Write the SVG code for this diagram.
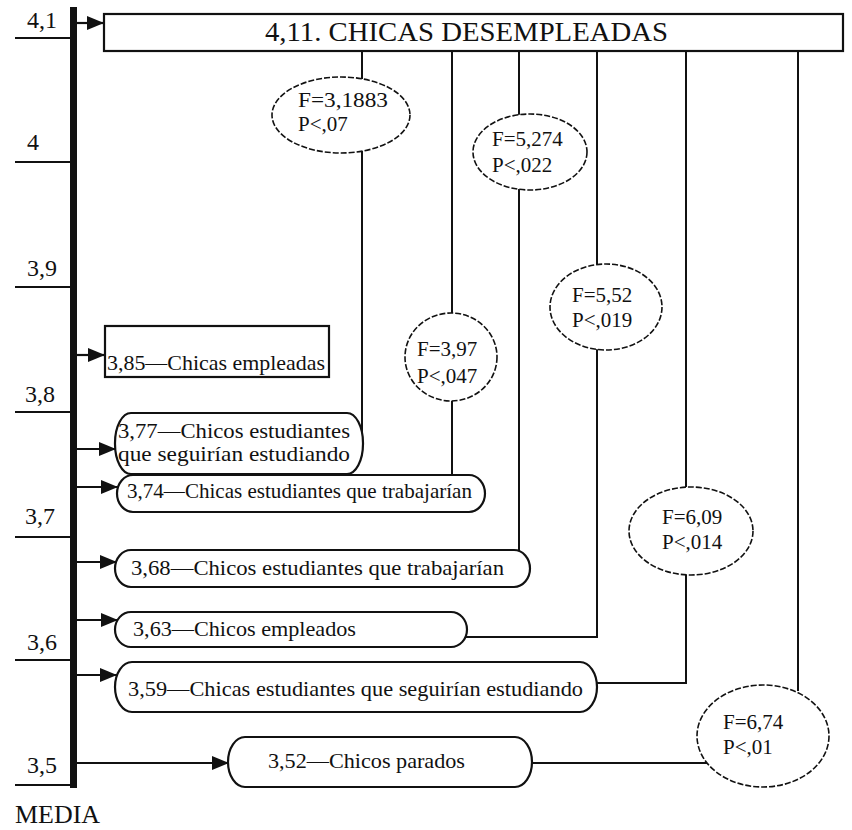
<svg xmlns="http://www.w3.org/2000/svg" width="852" height="830" viewBox="0 0 852 830">
<style>
  text { font-family: "Liberation Serif", "Times New Roman", serif; fill: #111; }
  .tick { stroke: #111; stroke-width: 2; }
  .tl { font-size: 24px; }
  .lbl { font-size: 22px; }
  .stat { font-size: 21px; }
  .box { fill: #fff; stroke: #111; stroke-width: 2.2; }
  .ell { fill: #fff; stroke: #111; stroke-width: 1.6; stroke-dasharray: 6 2; }
  .con { fill: none; stroke: #111; stroke-width: 2; }
  .arr { fill: none; stroke: #111; stroke-width: 2.2; marker-end: url(#ah); }
</style>
<defs>
  <marker id="ah" markerUnits="userSpaceOnUse" markerWidth="18" markerHeight="16" refX="17" refY="8" orient="auto">
    <path d="M0,1 L17,8 L0,15 z" fill="#111"/>
  </marker>
</defs>
<rect width="852" height="830" fill="#fff"/>

<g id="axis">
  <rect x="70" y="7" width="7" height="781" fill="#111"/>
  <line class="tick" x1="15" y1="38" x2="70" y2="38"/>
  <line class="tick" x1="15" y1="162" x2="70" y2="162"/>
  <line class="tick" x1="15" y1="287" x2="70" y2="287"/>
  <line class="tick" x1="15" y1="412" x2="70" y2="412"/>
  <line class="tick" x1="15" y1="537" x2="70" y2="537"/>
  <line class="tick" x1="15" y1="660" x2="70" y2="660"/>
  <line class="tick" x1="15" y1="785" x2="70" y2="785"/>
  <text class="tl" x="27" y="28">4,1</text>
  <text class="tl" x="27" y="150">4</text>
  <text class="tl" x="27" y="276">3,9</text>
  <text class="tl" x="25" y="402">3,8</text>
  <text class="tl" x="25" y="524">3,7</text>
  <text class="tl" x="27" y="650">3,6</text>
  <text class="tl" x="27" y="773">3,5</text>
  <text x="15" y="823" font-size="26" textLength="85" lengthAdjust="spacingAndGlyphs">MEDIA</text>
</g>

<g id="connectors">
  <line class="arr" x1="77" y1="23" x2="104" y2="23"/>
  <line class="arr" x1="77" y1="355" x2="105" y2="355"/>
  <line class="arr" x1="77" y1="449" x2="116" y2="449"/>
  <line class="arr" x1="77" y1="487" x2="118" y2="487"/>
  <line class="arr" x1="77" y1="562" x2="117" y2="562"/>
  <line class="arr" x1="77" y1="620" x2="118" y2="620"/>
  <line class="arr" x1="77" y1="675" x2="117" y2="675"/>
  <line class="arr" x1="77" y1="763" x2="229" y2="763"/>
  <line class="con" x1="362" y1="51" x2="362" y2="79"/>
  <line class="con" x1="362" y1="151" x2="362" y2="434"/>
  <line class="con" x1="452" y1="51" x2="452" y2="313"/>
  <line class="con" x1="452" y1="401" x2="452" y2="475"/>
  <line class="con" x1="519" y1="51" x2="519" y2="115"/>
  <line class="con" x1="519" y1="189" x2="519" y2="551"/>
  <line class="con" x1="597" y1="51" x2="597" y2="265"/>
  <polyline class="con" points="597,349 597,637 465,637"/>
  <line class="con" x1="686" y1="51" x2="686" y2="487"/>
  <polyline class="con" points="686,575 686,683 597,683"/>
  <line class="con" x1="798" y1="51" x2="798" y2="691"/>
  <line class="con" x1="532" y1="763" x2="707" y2="763"/>
</g>

<g id="title">
  <rect class="box" x="104" y="14" width="739" height="37"/>
  <text x="265" y="41" font-size="27" textLength="403" lengthAdjust="spacingAndGlyphs">4,11. CHICAS DESEMPLEADAS</text>
</g>

<g id="n385">
  <rect class="box" x="105" y="326" width="224" height="51"/>
  <text class="lbl" x="107" y="370" textLength="218" lengthAdjust="spacingAndGlyphs">3,85—Chicas empleadas</text>
</g>

<g id="n377">
  <rect class="box" x="115" y="413" width="248" height="61" rx="16" ry="30"/>
  <text class="lbl" x="118" y="438" textLength="232" lengthAdjust="spacingAndGlyphs">3,77—Chicos estudiantes</text>
  <text class="lbl" x="118" y="461" textLength="232" lengthAdjust="spacingAndGlyphs">que seguirían estudiando</text>
</g>

<g id="n374">
  <rect class="box" x="117" y="475" width="368" height="37" rx="16" ry="18.5"/>
  <text class="lbl" x="127" y="498" textLength="345" lengthAdjust="spacingAndGlyphs">3,74—Chicas estudiantes que trabajarían</text>
</g>

<g id="n368">
  <rect class="box" x="115" y="550" width="415" height="37" rx="16" ry="18.5"/>
  <text class="lbl" x="131" y="575" textLength="373" lengthAdjust="spacingAndGlyphs">3,68—Chicos estudiantes que trabajarían</text>
</g>

<g id="n363">
  <rect class="box" x="115" y="612" width="352" height="35" rx="16" ry="17.5"/>
  <text class="lbl" x="133" y="636" textLength="223" lengthAdjust="spacingAndGlyphs">3,63—Chicos empleados</text>
</g>

<g id="n359">
  <rect class="box" x="115" y="662" width="482" height="50" rx="17" ry="25"/>
  <text class="lbl" x="128" y="696" textLength="455" lengthAdjust="spacingAndGlyphs">3,59—Chicas estudiantes que seguirían estudiando</text>
</g>

<g id="n352">
  <rect class="box" x="228" y="737" width="304" height="50" rx="17" ry="25"/>
  <text class="lbl" x="268" y="768" textLength="197" lengthAdjust="spacingAndGlyphs">3,52—Chicos parados</text>
</g>

<g id="s1">
  <ellipse class="ell" cx="341" cy="115" rx="69" ry="38"/>
  <text class="stat" x="298" y="107" textLength="90" lengthAdjust="spacingAndGlyphs">F=3,1883</text>
  <text class="stat" x="298" y="131">P&lt;,07</text>
</g>
<g id="s2">
  <ellipse class="ell" cx="530" cy="152" rx="57" ry="38"/>
  <text class="stat" x="492" y="146">F=5,274</text>
  <text class="stat" x="492" y="172">P&lt;,022</text>
</g>
<g id="s3">
  <ellipse class="ell" cx="451" cy="357" rx="46" ry="44"/>
  <text class="stat" x="417" y="356">F=3,97</text>
  <text class="stat" x="417" y="383">P&lt;,047</text>
</g>
<g id="s4">
  <ellipse class="ell" cx="606" cy="307" rx="56" ry="43"/>
  <text class="stat" x="572" y="302">F=5,52</text>
  <text class="stat" x="572" y="327">P&lt;,019</text>
</g>
<g id="s5">
  <ellipse class="ell" cx="691" cy="531" rx="62" ry="44"/>
  <text class="stat" x="662" y="524">F=6,09</text>
  <text class="stat" x="662" y="549">P&lt;,014</text>
</g>
<g id="s6">
  <ellipse class="ell" cx="763" cy="736" rx="66" ry="51"/>
  <text class="stat" x="723" y="729">F=6,74</text>
  <text class="stat" x="723" y="754">P&lt;,01</text>
</g>
</svg>
